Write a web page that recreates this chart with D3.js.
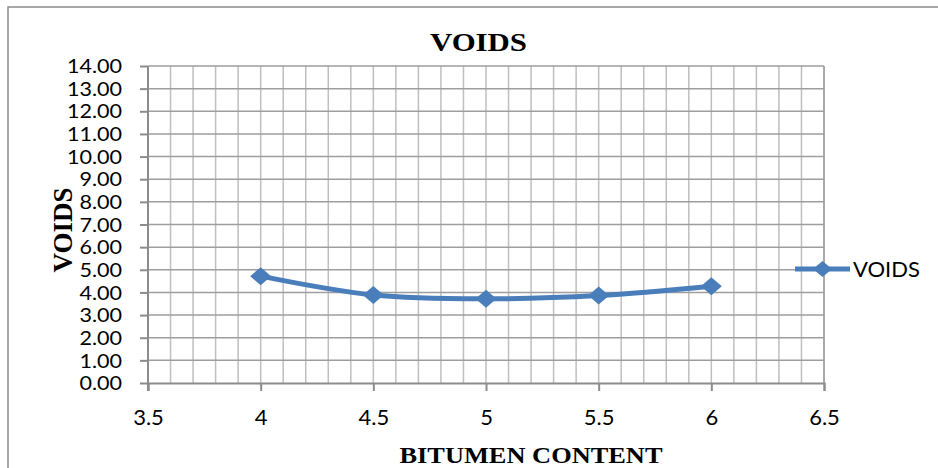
<!DOCTYPE html>
<html>
<head>
<meta charset="utf-8">
<script src="https://cdn.jsdelivr.net/npm/d3@7"></script>
<style>
  html, body { margin: 0; padding: 0; background: #fff; }
  svg { display: block; }
</style>
</head>
<body>
<svg id="chart" width="938" height="468"></svg>
<script>
// Air voids measured against bitumen content
const bitumenContent = [4, 4.5, 5, 5.5, 6];
const voids = [4.72, 3.89, 3.72, 3.86, 4.27];
const xTicks = [3.5, 4, 4.5, 5, 5.5, 6, 6.5];
const yTicks = [0, 1, 2, 3, 4, 5, 6, 7, 8, 9, 10, 11, 12, 13, 14];
const seriesName = "VOIDS";

const svg = d3.select("#chart");
const W = 938, H = 468;
const plot = { left: 148, right: 824, top: 66, bottom: 383 };

const x = d3.scaleLinear().domain([3.5, 6.5]).range([plot.left, plot.right]);
const y = d3.scaleLinear().domain([0, 14]).range([plot.bottom, plot.top]);

const tickFont = "Lato, 'Open Sans', sans-serif";
const serif = "'Liberation Serif', 'Times New Roman', serif";
const color = "#4a7ebb";

// diamond marker path, a little wider than tall
const diamondPath = (hw, hh) => `M0,${-hh}L${hw},0L0,${hh}L${-hw},0Z`;

// outer chart frame (runs off the right and bottom edges)
svg.append("rect")
  .attr("x", 8).attr("y", 7)
  .attr("width", W + 20).attr("height", H + 20)
  .attr("fill", "none").attr("stroke", "#8c8c8c").attr("stroke-width", 1.5);

// minor vertical gridlines every 0.1
const minorX = d3.range(36, 66).map(v => v / 10);
svg.append("g").selectAll("line")
  .data(minorX).join("line")
  .attr("x1", d => x(d)).attr("x2", d => x(d))
  .attr("y1", plot.top).attr("y2", plot.bottom)
  .attr("stroke", "#bfbfbf").attr("stroke-width", 1.5);

// horizontal gridlines
svg.append("g").selectAll("line")
  .data(yTicks.slice(1)).join("line")
  .attr("x1", plot.left).attr("x2", plot.right)
  .attr("y1", d => y(d)).attr("y2", d => y(d))
  .attr("stroke", "#9e9e9e").attr("stroke-width", 1.5);

// right border of plot area
svg.append("line")
  .attr("x1", plot.right).attr("x2", plot.right)
  .attr("y1", plot.top).attr("y2", plot.bottom)
  .attr("stroke", "#9e9e9e").attr("stroke-width", 1.5);

// x axis
const xAxis = svg.append("g")
  .attr("transform", `translate(0,${plot.bottom})`)
  .call(d3.axisBottom(x).tickValues(xTicks).tickFormat(d3.format("")).tickSize(8).tickPadding(18));
xAxis.select(".domain").attr("stroke", "#8c8c8c").attr("stroke-width", 2);
xAxis.selectAll(".tick line").attr("stroke", "#8c8c8c").attr("stroke-width", 2);
xAxis.selectAll("text")
  .attr("font-family", tickFont).attr("font-size", 22).attr("fill", "#000");

// y axis: labels packed tightly, so a smaller size stretched sideways
const yAxis = svg.append("g")
  .attr("transform", `translate(${plot.left},0)`)
  .call(d3.axisLeft(y).tickValues(yTicks).tickFormat(d3.format(".2f")).tickSize(8).tickPadding(18));
yAxis.select(".domain").remove();
yAxis.append("line")
  .attr("x1", 0).attr("x2", 0)
  .attr("y1", plot.top).attr("y2", plot.bottom + 8)
  .attr("stroke", "#8c8c8c").attr("stroke-width", 2);
yAxis.selectAll(".tick line").attr("stroke", "#8c8c8c").attr("stroke-width", 2);
yAxis.selectAll("text")
  .attr("font-family", tickFont).attr("font-size", 18.6).attr("fill", "#000")
  .attr("dy", "0.36em")
  .each(function () {
    const w = this.getComputedTextLength();
    d3.select(this).attr("textLength", w * 1.16).attr("lengthAdjust", "spacingAndGlyphs");
  });

// smoothed series line
const pts = bitumenContent.map((b, i) => [b, voids[i]]);
svg.append("path")
  .datum(pts)
  .attr("fill", "none")
  .attr("stroke", color)
  .attr("stroke-width", 5)
  .attr("stroke-linejoin", "round")
  .attr("d", d3.line().x(d => x(d[0])).y(d => y(d[1])).curve(d3.curveCatmullRom.alpha(0.5)));

// diamond markers
svg.append("g").selectAll("path")
  .data(pts).join("path")
  .attr("transform", d => `translate(${x(d[0])},${y(d[1])})`)
  .attr("d", diamondPath(10.5, 9))
  .attr("fill", color);

// title
svg.append("text")
  .attr("x", 478.5).attr("y", 51)
  .attr("text-anchor", "middle")
  .attr("font-family", serif).attr("font-weight", "bold").attr("font-size", 26)
  .attr("textLength", 97).attr("lengthAdjust", "spacingAndGlyphs")
  .text("VOIDS");

// y axis title
svg.append("text")
  .attr("transform", "translate(72,230) rotate(-90)")
  .attr("text-anchor", "middle")
  .attr("font-family", serif).attr("font-weight", "bold").attr("font-size", 27)
  .attr("textLength", 85).attr("lengthAdjust", "spacingAndGlyphs")
  .text("VOIDS");

// x axis title
svg.append("text")
  .attr("x", 531).attr("y", 463)
  .attr("text-anchor", "middle")
  .attr("font-family", serif).attr("font-weight", "bold").attr("font-size", 24)
  .attr("textLength", 263).attr("lengthAdjust", "spacingAndGlyphs")
  .text("BITUMEN CONTENT");

// legend
const lg = svg.append("g").attr("transform", "translate(795,269)");
lg.append("line").attr("x1", 0).attr("x2", 55).attr("y1", 0).attr("y2", 0)
  .attr("stroke", color).attr("stroke-width", 5);
lg.append("path").attr("transform", "translate(27.5,0)")
  .attr("d", diamondPath(9.5, 8))
  .attr("fill", color);
lg.append("text").attr("x", 58).attr("y", 0).attr("dy", "0.36em")
  .attr("font-family", tickFont).attr("font-size", 22).attr("fill", "#000")
  .text(seriesName);
</script>
</body>
</html>
